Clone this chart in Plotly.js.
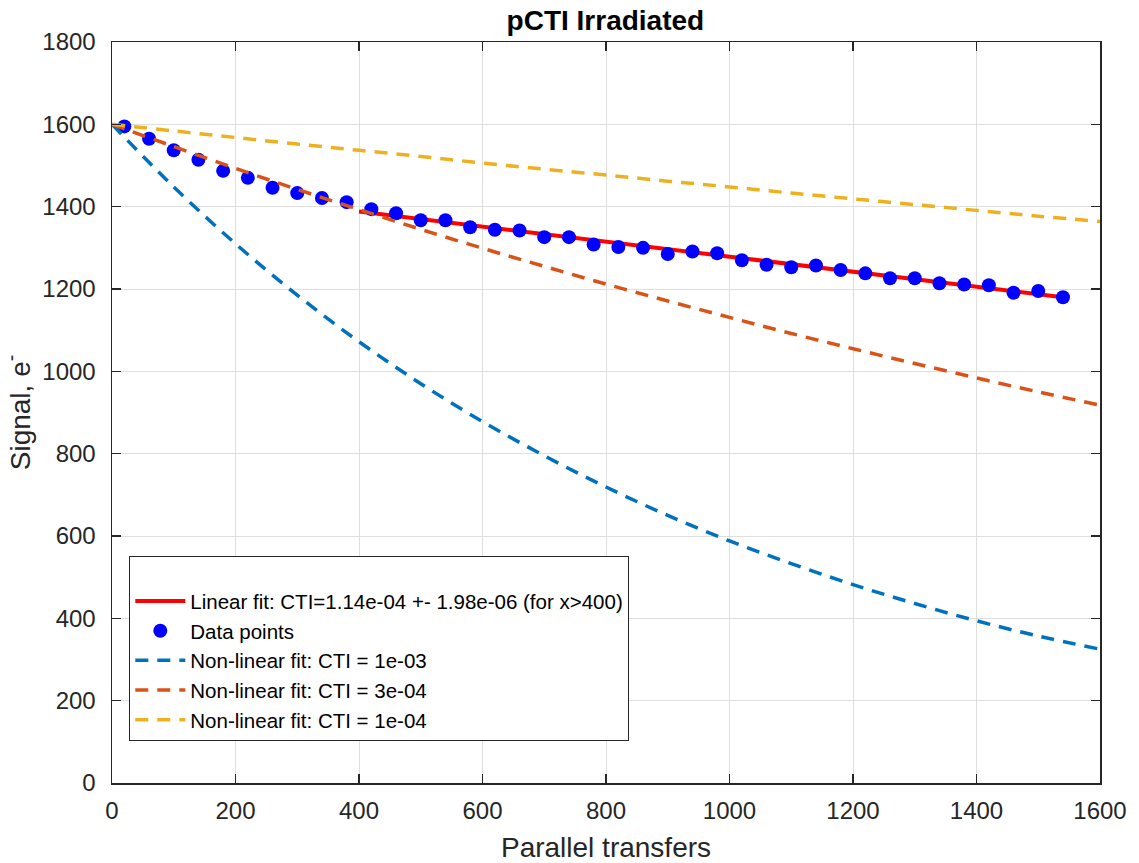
<!DOCTYPE html>
<html>
<head>
<meta charset="utf-8">
<script src="https://cdn.plot.ly/plotly-3.0.1.min.js"></script>
<style>html,body{margin:0;padding:0;background:#fff;}#chart{width:1139px;height:863px;}</style>
</head>
<body>
<div id="chart"></div>
<script>
// Data points
const dataX = [20,60,100,140,180,220,260,300,340,380,420,460,500,540,580,620,660,700,740,780,820,860,900,940,980,1020,1060,1100,1140,1180,1220,1260,1300,1340,1380,1420,1460,1500,1540];
const dataY = [1595,1565,1537,1514,1487,1470,1446,1433,1421,1411,1394,1384,1367,1367,1350,1344,1342,1326,1326,1308,1302,1300,1285,1291,1287,1270,1259,1253,1257,1246,1238,1226,1226,1214,1211,1209,1191,1195,1180];

// Linear fit (x>400)
const linX = [400, 1540];
const linY = [1388, 1180];

// Non-linear fit curves
const curveX = [0,100,200,300,400,500,600,700,800,900,1000,1100,1200,1300,1400,1500,1600];
const cti1e3Y = [1600,1448,1310,1185,1072,970,878,795,719,650,588,533,482,436,394,357,325];
const cti3e4Y = [1600,1546,1493,1442,1393,1345,1299,1255,1212,1171,1131,1092,1055,1019,984,950,918];
const cti1e4Y = [1600,1584,1568,1552,1537,1522,1506,1491,1477,1462,1448,1433,1419,1405,1391,1377,1364];

const xTicks = [0,200,400,600,800,1000,1200,1400,1600];
const yTicks = [0,200,400,600,800,1000,1200,1400,1600,1800];

const FONT = 'Liberation Sans, Arial, Helvetica, sans-serif';
const AX = '#262626';

const traces = [
  {x: linX, y: linY, mode: 'lines', name: 'Linear fit: CTI=1.14e-04 +- 1.98e-06 (for x>400)',
   line: {color: '#ff0000', width: 4}},
  {x: dataX, y: dataY, mode: 'markers', name: 'Data points',
   marker: {color: '#0000ff', size: 14, symbol: 'circle'}},
  {x: curveX, y: cti1e3Y, mode: 'lines', name: 'Non-linear fit: CTI = 1e-03',
   line: {color: '#0072BD', width: 3.5, dash: '13px,9px', shape: 'spline'}},
  {x: curveX, y: cti3e4Y, mode: 'lines', name: 'Non-linear fit: CTI = 3e-04',
   line: {color: '#D95319', width: 3.5, dash: '13px,9px', shape: 'spline'}},
  {x: curveX, y: cti1e4Y, mode: 'lines', name: 'Non-linear fit: CTI = 1e-04',
   line: {color: '#EDB120', width: 3.5, dash: '13px,9px', shape: 'spline'}}
];

const layout = {
  width: 1139, height: 863,
  margin: {l: 112, r: 39, t: 42, b: 80, pad: 0},
  paper_bgcolor: '#fff', plot_bgcolor: '#fff',
  font: {family: FONT, color: AX},
  showlegend: true,
  title: {text: '<b>pCTI Irradiated</b>', font: {family: FONT, size: 28, color: '#000'},
          x: 0.5315, xanchor: 'center', y: 0.977, yanchor: 'middle'},
  xaxis: {range: [0, 1600], tickvals: xTicks, ticktext: xTicks.map(String),
          showgrid: true, gridcolor: '#dfdfdf', gridwidth: 1, zeroline: false,
          showline: true, linecolor: AX, linewidth: 1.5, mirror: 'ticks',
          ticks: 'inside', ticklen: 9, tickcolor: AX, tickwidth: 1.5,
          tickfont: {family: FONT, size: 24, color: AX}, ticklabelstandoff: 6,
          title: {text: 'Parallel transfers', font: {family: FONT, size: 28, color: AX}, standoff: 16},
          automargin: false},
  yaxis: {range: [0, 1800], tickvals: yTicks, ticktext: yTicks.map(String),
          showgrid: true, gridcolor: '#dfdfdf', gridwidth: 1, zeroline: false,
          showline: true, linecolor: AX, linewidth: 1.5, mirror: 'ticks',
          ticks: 'inside', ticklen: 9, tickcolor: AX, tickwidth: 1.5,
          tickfont: {family: FONT, size: 24, color: AX}, ticklabelstandoff: 10,
          title: {text: 'Signal, e<sup>-</sup>', font: {family: FONT, size: 28, color: AX}, standoff: 8},
          automargin: false},
  legend: {x: 0.0175, y: 0.307, xanchor: 'left', yanchor: 'top',
           bgcolor: '#fff', bordercolor: '#262626', borderwidth: 1,
           font: {family: FONT, size: 20.5, color: '#000'},
           title: {text: '&nbsp;', font: {family: FONT, size: 19}},
           tracegroupgap: 0, itemwidth: 50}
};

Plotly.newPlot('chart', traces, layout, {displayModeBar: false, staticPlot: true});
</script>
</body>
</html>
